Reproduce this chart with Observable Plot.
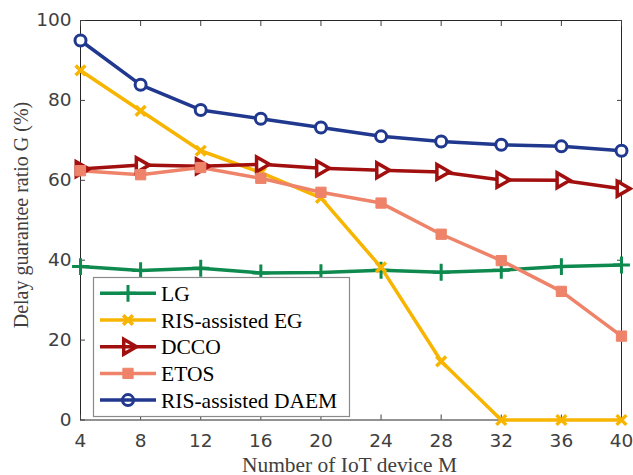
<!DOCTYPE html>
<html><head><meta charset="utf-8">
<script src="https://cdn.jsdelivr.net/npm/d3@7"></script>
<script src="https://cdn.jsdelivr.net/npm/@observablehq/plot@0.6"></script>
<style>html,body{margin:0;padding:0;background:#fff}</style>
</head><body><div id="chart"></div>
<script>
const M = [4, 8, 12, 16, 20, 24, 28, 32, 36, 40];
const LG   = [38.4, 37.4, 38.0, 36.8, 36.9, 37.5, 37.0, 37.5, 38.4, 38.8];
const EG   = [87.5, 77.4, 67.4, 61.9, 55.6, 38.2, 14.7, 0, 0, 0];
const DCCO = [62.8, 63.8, 63.5, 64.0, 63.0, 62.5, 62.1, 60.1, 60.0, 57.9];
const ETOS = [62.4, 61.4, 63.2, 60.5, 57.0, 54.3, 46.5, 39.9, 32.2, 21.0];
const DAEM = [95.0, 83.9, 77.6, 75.4, 73.2, 71.0, 69.7, 68.9, 68.5, 67.4];
const yTicks = [0, 20, 40, 60, 80, 100];
const seriesNames = ["LG", "RIS-assisted EG", "DCCO", "ETOS", "RIS-assisted DAEM"];
const seriesValues = [LG, EG, DCCO, ETOS, DAEM];
const colors = ["#0e8a4f", "#f7b500", "#a10f0f", "#ee836a", "#20398f"];
const xLabel = "Number of IoT device M";
const yLabel = "Delay guarantee ratio G (%)";

const rows = [];
seriesNames.forEach((s, i) => M.forEach((m, j) => rows.push({series: s, M: m, G: seriesValues[i][j]})));
const of = s => rows.filter(d => d.series === s);

const sans = "'DejaVu Sans', 'Liberation Sans', Arial, sans-serif";
const serif = "'Liberation Serif', 'Times New Roman', serif";

const chart = Plot.plot({
  width: 633, height: 475,
  marginLeft: 80, marginRight: 12, marginTop: 20, marginBottom: 55.5,
  style: {background: "#fff", overflow: "visible"},
  x: {domain: [4, 40]},
  y: {domain: [0, 100]},
  color: {domain: seriesNames, range: colors},
  marks: [
    Plot.frame({stroke: "#262626", strokeWidth: 1}),
    Plot.axisX(M, {anchor: "bottom", tickSize: -5, tickPadding: 19, fontSize: 18.5, fontFamily: sans, color: "#404040", label: null}),
    Plot.axisX(M, {anchor: "top", tickSize: -5, tickFormat: () => "", color: "#404040", label: null}),
    Plot.axisY(yTicks, {anchor: "left", tickSize: -5, tickPadding: 14, fontSize: 18.5, fontFamily: sans, color: "#404040", label: null}),
    Plot.axisY(yTicks, {anchor: "right", tickSize: -5, tickFormat: () => "", color: "#404040", label: null}),
    Plot.line(rows, {x: "M", y: "G", z: "series", stroke: "series", strokeWidth: 3.5}),
    Plot.dot(of("LG"), {x: "M", y: "G", symbol: "plus", r: 5.5, stroke: "series", strokeWidth: 3}),
    Plot.dot(of("RIS-assisted EG"), {x: "M", y: "G", symbol: "times", r: 4.5, stroke: "series", strokeWidth: 3.5}),
    Plot.dot(of("DCCO"), {x: "M", y: "G", symbol: "triangle", rotate: 90, r: 5.5, stroke: "series", fill: "#fff", strokeWidth: 3.5}),
    Plot.dot(of("ETOS"), {x: "M", y: "G", symbol: "square", r: 5.8, fill: "series", stroke: "series", strokeWidth: 1}),
    Plot.dot(of("RIS-assisted DAEM"), {x: "M", y: "G", symbol: "circle", r: 5.5, stroke: "series", fill: "#fff", strokeWidth: 3})
  ]
});
document.getElementById("chart").appendChild(chart);

const svg = d3.select(chart);
// axis titles
svg.append("text").attr("x", 349.5).attr("y", 472).attr("text-anchor", "middle")
  .attr("font-family", serif).attr("font-size", 20).attr("fill", "#404040")
  .attr("textLength", 215).attr("lengthAdjust", "spacingAndGlyphs").text(xLabel);
svg.append("text").attr("transform", "translate(28,215) rotate(-90)").attr("text-anchor", "middle")
  .attr("font-family", serif).attr("font-size", 20).attr("fill", "#404040").text(yLabel);

// legend
const lg = svg.append("g");
lg.append("rect").attr("x", 93.5).attr("y", 277.5).attr("width", 256).attr("height", 139)
  .attr("fill", "#fff").attr("stroke", "#8a8a8a").attr("stroke-width", 1.2);
seriesNames.forEach((s, i) => {
  const y = 293.3 + i * 26.7;
  const g = lg.append("g");
  g.append("line").attr("x1", 100).attr("x2", 156).attr("y1", y).attr("y2", y)
    .attr("stroke", colors[i]).attr("stroke-width", 3.5);
  const cx = 128;
  if (i === 0) {
    g.append("path").attr("d", d3.symbol(d3.symbolPlus, Math.PI * 30)()).attr("transform", `translate(${cx},${y})`)
      .attr("fill", "none").attr("stroke", colors[i]).attr("stroke-width", 3);
  } else if (i === 1) {
    g.append("path").attr("d", d3.symbol(d3.symbolTimes, Math.PI * 20)()).attr("transform", `translate(${cx},${y})`)
      .attr("fill", "none").attr("stroke", colors[i]).attr("stroke-width", 3.5);
  } else if (i === 2) {
    g.append("path").attr("d", d3.symbol(d3.symbolTriangle, Math.PI * 5.5 * 5.5)()).attr("transform", `translate(${cx},${y}) rotate(90)`)
      .attr("fill", "none").attr("stroke", colors[i]).attr("stroke-width", 3.5);
  } else if (i === 3) {
    g.append("path").attr("d", d3.symbol(d3.symbolSquare, Math.PI * 5.8 * 5.8)()).attr("transform", `translate(${cx},${y})`)
      .attr("fill", colors[i]).attr("stroke", colors[i]).attr("stroke-width", 1);
  } else {
    g.append("path").attr("d", d3.symbol(d3.symbolCircle, Math.PI * 5.5 * 5.5)()).attr("transform", `translate(${cx},${y})`)
      .attr("fill", "none").attr("stroke", colors[i]).attr("stroke-width", 3);
  }
  g.append("text").attr("x", 161).attr("y", y).attr("dy", "0.35em").attr("text-anchor", "start")
    .attr("font-family", serif).attr("font-size", 21.5).attr("fill", "#000").text(s);
});
</script>
</body></html>
